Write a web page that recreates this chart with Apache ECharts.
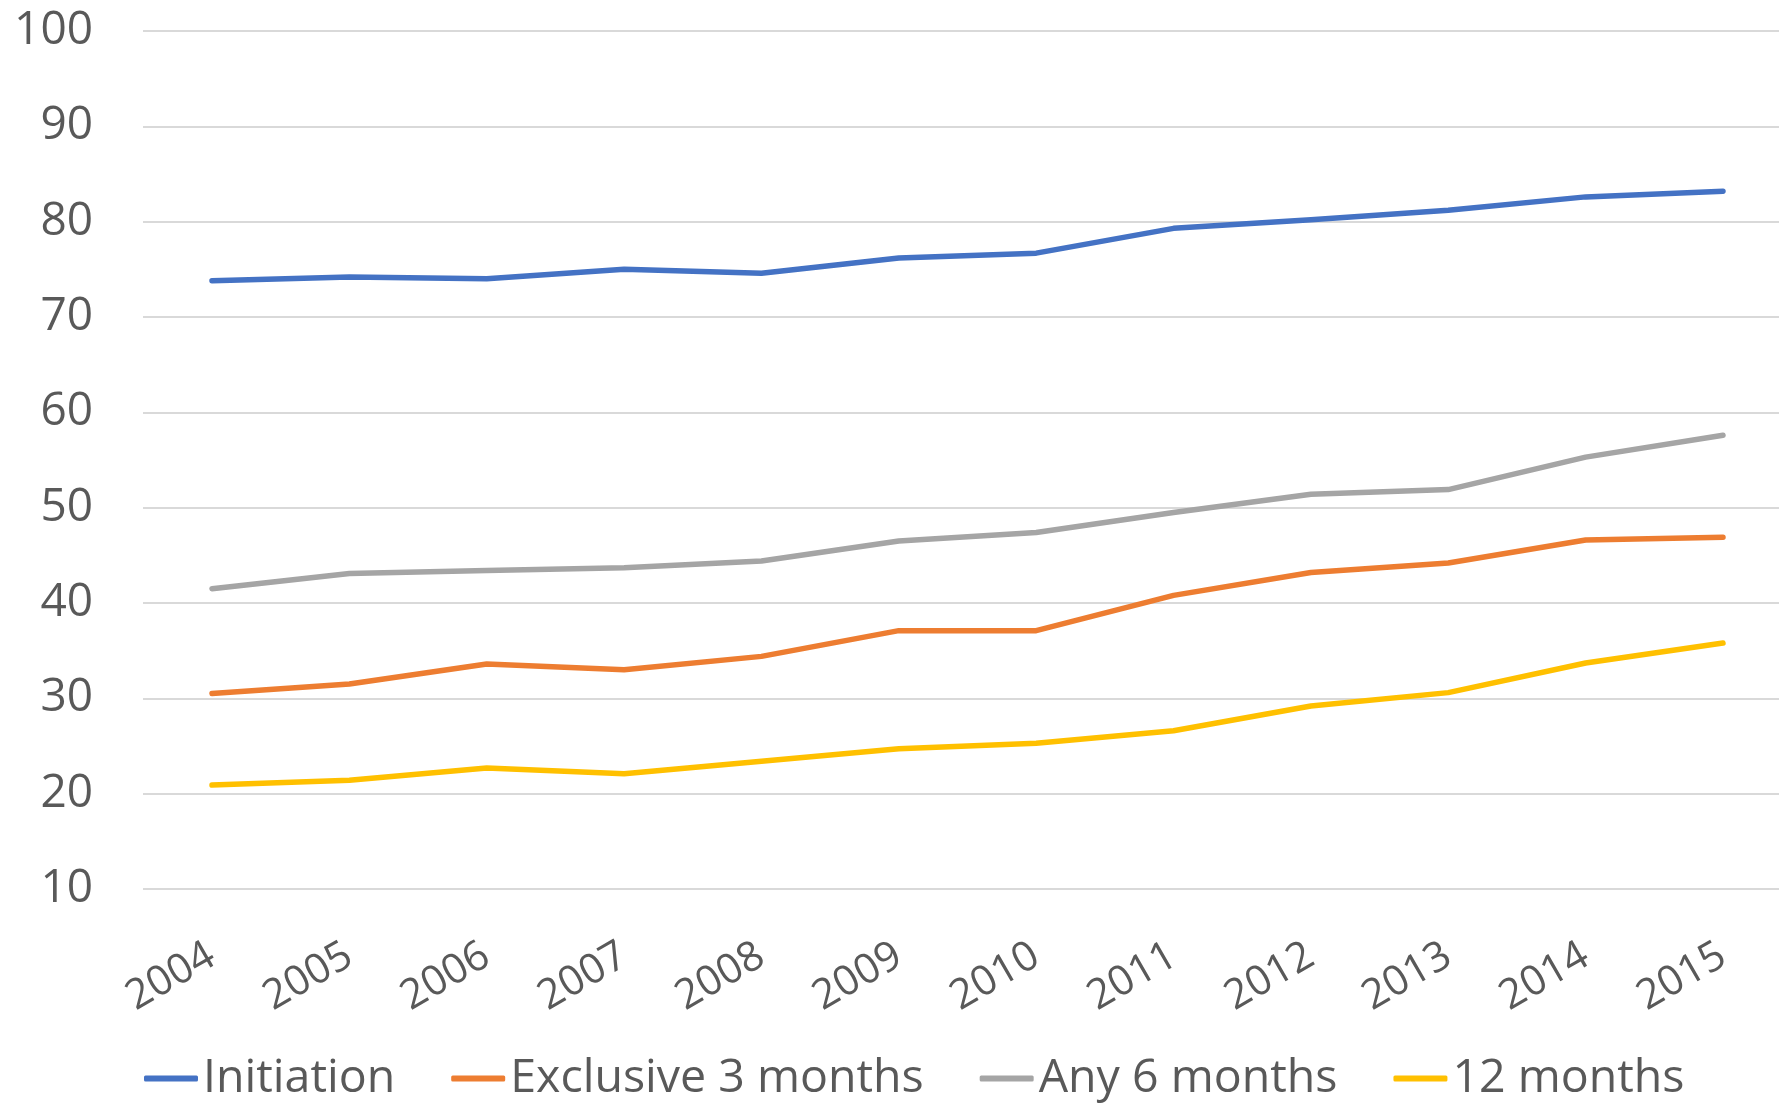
<!DOCTYPE html>
<html>
<head>
<meta charset="utf-8">
<script src="https://cdn.jsdelivr.net/npm/echarts@6/dist/echarts.min.js"></script>
<style>
html,body{margin:0;padding:0;background:#fff;}
#chart{width:1779px;height:1104px;}
</style>
</head>
<body>
<div id="chart"></div>
<script>
const years = ['2004','2005','2006','2007','2008','2009','2010','2011','2012','2013','2014','2015'];
const initiation = [73.8, 74.2, 74.0, 75.0, 74.6, 76.2, 76.7, 79.3, 80.2, 81.2, 82.6, 83.2];
const exclusive3 = [30.5, 31.5, 33.6, 33.0, 34.4, 37.1, 37.1, 40.8, 43.2, 44.2, 46.6, 46.9];
const any6 = [41.5, 43.1, 43.4, 43.7, 44.4, 46.5, 47.4, 49.5, 51.4, 51.9, 55.3, 57.6];
const months12 = [20.9, 21.4, 22.7, 22.1, 23.4, 24.7, 25.3, 26.6, 29.2, 30.6, 33.7, 35.8];
const seriesNames = ['Initiation', 'Exclusive 3 months', 'Any 6 months', '12 months'];
const colors = ['#4472C4', '#ED7D31', '#A5A5A5', '#FFC000'];

const font = '"Open Sans", "Noto Sans", sans-serif';
const textColor = '#595959';
const chart = echarts.init(document.getElementById('chart'), null, {renderer: 'canvas'});
const dataSets = [initiation, exclusive3, any6, months12];

chart.setOption({
  animation: false,
  backgroundColor: '#ffffff',
  grid: [
    {left: 143, top: 31, right: 0, height: 858, containLabel: false},
    {left: 212, top: 31, width: 1511, height: 858, containLabel: false}
  ],
  legend: {
    left: 144, top: 1055, padding: 0,
    icon: 'roundRect',
    itemWidth: 54, itemHeight: 6, itemGap: 56,
    textStyle: {fontFamily: font, fontSize: 46.5, color: textColor},
    data: seriesNames
  },
  xAxis: [
    {
      gridIndex: 0, type: 'category', data: years, boundaryGap: true,
      axisLine: {show: false}, axisTick: {show: false},
      axisLabel: {show: false}, splitLine: {show: false}
    },
    {
      gridIndex: 1, type: 'category', data: years, boundaryGap: false,
      axisLine: {show: false}, axisTick: {show: false}, splitLine: {show: false},
      axisLabel: {
        rotate: 30, margin: 64, interval: 0,
        fontFamily: font, fontSize: 41.5, color: textColor
      }
    }
  ],
  yAxis: [
    {
      gridIndex: 0, type: 'value', min: 10, max: 100, interval: 10,
      axisLine: {show: false}, axisTick: {show: false},
      splitLine: {show: true, lineStyle: {color: '#D9D9D9', width: 2}},
      axisLabel: {margin: 50, fontFamily: font, fontSize: 46, color: textColor}
    },
    {
      gridIndex: 1, type: 'value', min: 10, max: 100, interval: 10,
      axisLine: {show: false}, axisTick: {show: false},
      splitLine: {show: false}, axisLabel: {show: false}
    }
  ],
  series: seriesNames.map((name, i) => ({
    name: name,
    type: 'line',
    xAxisIndex: 1,
    yAxisIndex: 1,
    data: dataSets[i],
    symbol: 'none',
    smooth: false,
    color: colors[i],
    itemStyle: {color: colors[i]},
    lineStyle: {width: 5.5, color: colors[i], cap: 'round', join: 'round'}
  }))
});
</script>
</body>
</html>
